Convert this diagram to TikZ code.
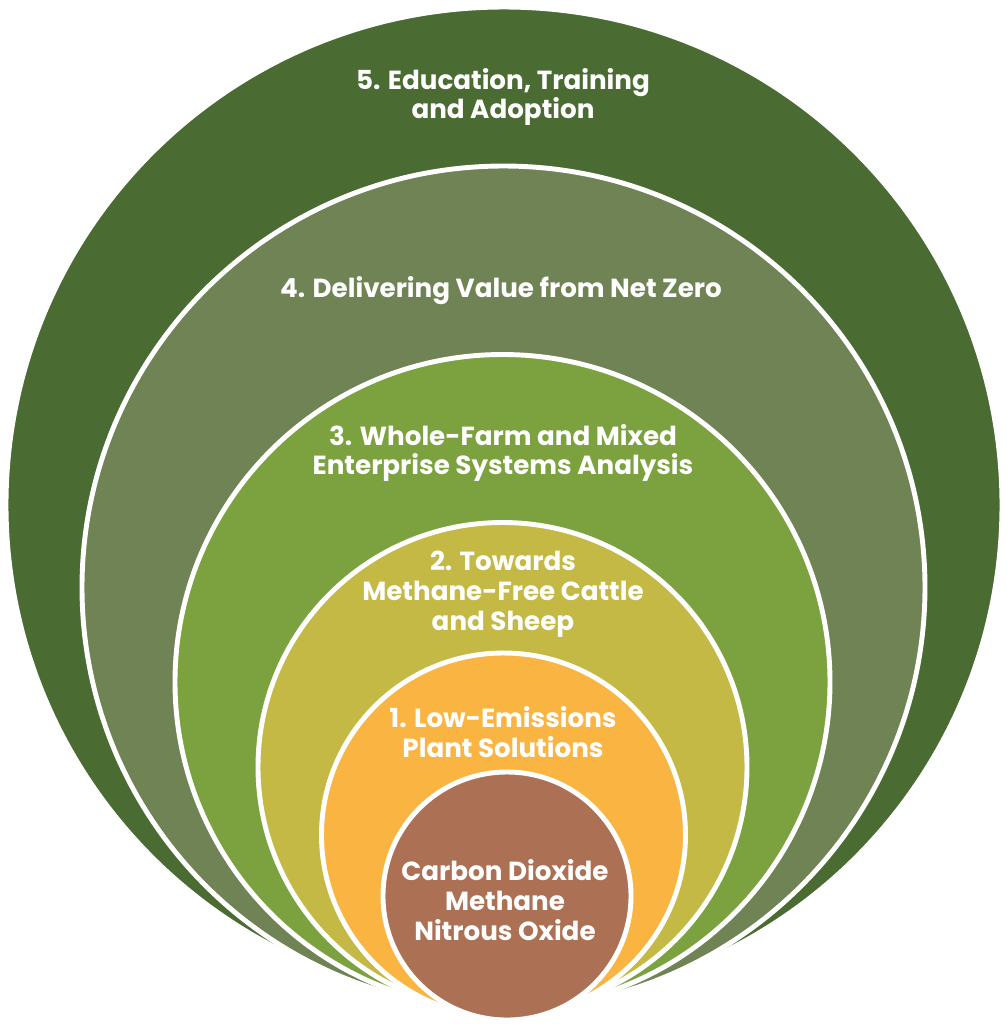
\documentclass[tikz,border=0pt]{standalone}
\usepackage{fontspec}
\setmainfont{Poppins}
\definecolor{ringfive}{HTML}{4A6B32}
\definecolor{ringfour}{HTML}{6F8354}
\definecolor{ringthree}{HTML}{7BA23F}
\definecolor{ringtwo}{HTML}{C4B944}
\definecolor{ringone}{HTML}{F9B442}
\definecolor{core}{HTML}{AC7155}
\begin{document}
\begin{tikzpicture}[
	ring/.style = {circle,
		draw = white,
		line width = 2.8pt,
		inner sep = 0pt},
	txt/.style = {text = white,
		align = center,
		font = \bfseries\fontsize{14.9}{17}\selectfont}]

	\useasboundingbox (0,0) rectangle (20.14,-20.48);

	\node[ring, fill=ringfive, minimum size=19.92cm] (R5) at (10.08,-10.10) {};
	\node[ring, fill=ringfour, minimum size=16.86cm] (R4) at (10.07,-11.75) {};
	\node[ring, fill=ringthree, minimum size=13.10cm] (R3) at (10.05,-13.64) {};
	\node[ring, fill=ringtwo, minimum size=9.78cm] (R2) at (10.05,-15.34) {};
	\node[ring, fill=ringone, minimum size=7.28cm] (R1) at (10.07,-16.70) {};
	\node[ring, fill=core, minimum size=4.96cm] (C) at (10.14,-17.92) {};

	\node[txt] (T5) at (10.06,-1.94) {5. Education, Training\\and Adoption};
	\node[txt] (T4) at (10.02,-5.82) {4. Delivering Value from Net Zero};
	\node[txt] (T3) at (10.06,-9.06) {3. Whole-Farm and Mixed\\Enterprise Systems Analysis};
	\node[txt] (T2) at (10.06,-11.88) {2. Towards\\Methane-Free Cattle\\and Sheep};
	\node[txt] (T1) at (10.06,-14.64) {1. Low-Emissions\\Plant Solutions};
	\node[txt] (TC) at (10.10,-18.00) {Carbon Dioxide\\Methane\\Nitrous Oxide};

\end{tikzpicture}
\end{document}
